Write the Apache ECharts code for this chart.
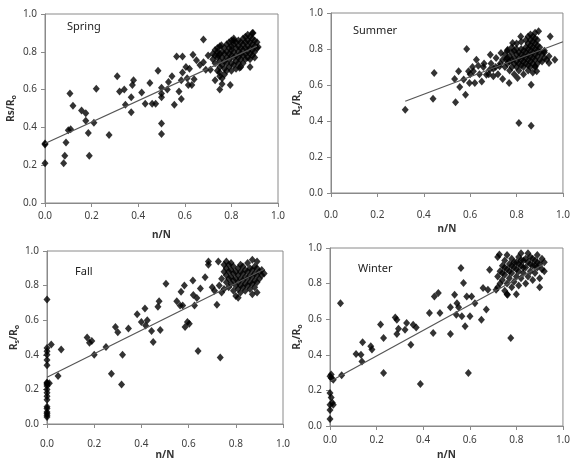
<!DOCTYPE html>
<html><head><meta charset="utf-8">
<script src="https://cdn.jsdelivr.net/npm/echarts@6/dist/echarts.min.js"></script>
<style>html,body{margin:0;padding:0;background:#fff}#c{width:573px;height:461px}</style>
</head><body><div id="c"></div>
<script>
var panelNames = ['Spring', 'Summer', 'Fall', 'Winter'];
var tickLabels = ['0.0', '0.2', '0.4', '0.6', '0.8', '1.0'];

var springPts = [
[0,0.315],[0,0.31],[0,0.21],[0.08,0.21],[0.085,0.25],[0.09,0.32],[0.1,0.385],[0.11,0.39],[0.107,0.58],[0.12,0.515],
[0.157,0.49],[0.175,0.475],[0.175,0.435],[0.186,0.37],[0.19,0.25],[0.21,0.425],[0.22,0.605],
[0.275,0.36],[0.31,0.67],[0.32,0.59],[0.34,0.6],[0.345,0.52],[0.37,0.56],[0.375,0.625],[0.38,0.65],[0.37,0.48],
[0.415,0.585],[0.43,0.525],[0.45,0.635],[0.46,0.525],[0.475,0.525],[0.485,0.7],[0.5,0.58],[0.5,0.56],[0.5,0.61],
[0.5,0.42],[0.5,0.365],[0.525,0.6],[0.53,0.64],[0.545,0.67],[0.555,0.52],[0.565,0.775],[0.575,0.59],[0.585,0.55],
[0.585,0.65],[0.59,0.775],[0.59,0.69],[0.605,0.72],[0.61,0.66],[0.615,0.625],[0.62,0.71],[0.63,0.625],[0.635,0.785],
[0.64,0.655],[0.65,0.755],[0.665,0.73],[0.68,0.865],[0.68,0.745],[0.69,0.705],[0.7,0.78],[0.71,0.705],
[0.73,0.65],[0.745,0.78],[0.75,0.60],[0.75,0.67],[0.757,0.835],[0.795,0.625],[0.81,0.86],[0.835,0.715],[0.893,0.9],[0.915,0.825],
[0.72,0.76],[0.72,0.79],[0.73,0.74],[0.73,0.78],[0.73,0.81],[0.74,0.70],[0.74,0.77],[0.74,0.80],[0.74,0.82],[0.75,0.72],
[0.75,0.75],[0.75,0.79],[0.75,0.83],[0.75,0.69],[0.76,0.73],[0.76,0.77],[0.76,0.80],[0.76,0.66],[0.76,0.63],[0.77,0.71],
[0.77,0.75],[0.77,0.79],[0.77,0.82],[0.77,0.68],[0.78,0.74],[0.78,0.77],[0.78,0.80],[0.78,0.84],[0.78,0.70],[0.79,0.72],
[0.79,0.76],[0.79,0.79],[0.79,0.82],[0.79,0.85],[0.80,0.74],[0.80,0.78],[0.80,0.81],[0.80,0.83],[0.80,0.86],[0.80,0.70],
[0.81,0.73],[0.81,0.77],[0.81,0.80],[0.81,0.84],[0.81,0.87],[0.82,0.75],[0.82,0.78],[0.82,0.82],[0.82,0.85],[0.82,0.71],
[0.83,0.74],[0.83,0.77],[0.83,0.80],[0.83,0.83],[0.83,0.86],[0.84,0.76],[0.84,0.79],[0.84,0.82],[0.84,0.85],[0.84,0.72],
[0.85,0.74],[0.85,0.78],[0.85,0.81],[0.85,0.84],[0.85,0.87],[0.86,0.76],[0.86,0.79],[0.86,0.82],[0.86,0.85],[0.86,0.88],
[0.87,0.77],[0.87,0.80],[0.87,0.83],[0.87,0.86],[0.87,0.89],[0.88,0.76],[0.88,0.79],[0.88,0.82],[0.88,0.85],[0.88,0.88],
[0.88,0.72],[0.89,0.78],[0.89,0.81],[0.89,0.84],[0.89,0.87],[0.89,0.90],[0.90,0.80],[0.90,0.83],[0.90,0.86],[0.90,0.77],
[0.91,0.82],[0.91,0.85]
];
var summerPts = [
[0.32,0.463],[0.44,0.524],[0.445,0.667],[0.537,0.504],[0.533,0.633],[0.555,0.589],[0.55,0.676],[0.58,0.546],[0.585,0.80],
[0.572,0.63],[0.593,0.676],[0.597,0.611],[0.614,0.676],[0.62,0.611],[0.627,0.74],[0.635,0.707],[0.65,0.62],[0.657,0.70],
[0.67,0.657],[0.684,0.685],[0.687,0.768],[0.7,0.648],[0.712,0.75],[0.727,0.704],[0.733,0.778],[0.74,0.633],[0.755,0.741],
[0.762,0.796],[0.768,0.611],[0.783,0.833],[0.804,0.639],[0.81,0.389],[0.818,0.87],[0.863,0.602],[0.863,0.374],[0.88,0.704],
[0.895,0.898],[0.887,0.676],[0.945,0.87],[0.94,0.722],[0.965,0.74],[0.92,0.78],
[0.60,0.66],[0.61,0.70],[0.64,0.66],[0.66,0.72],[0.69,0.72],[0.70,0.69],[0.72,0.66],[0.73,0.72],[0.71,0.70],[0.68,0.66],
[0.74,0.74],[0.75,0.70],[0.75,0.77],[0.76,0.72],[0.76,0.75],[0.76,0.79],[0.77,0.68],[0.77,0.73],[0.77,0.76],[0.78,0.70],
[0.78,0.74],[0.78,0.78],[0.78,0.81],[0.79,0.66],[0.79,0.72],[0.79,0.75],[0.79,0.79],[0.80,0.70],[0.80,0.73],[0.80,0.77],
[0.80,0.80],[0.80,0.83],[0.81,0.68],[0.81,0.72],[0.81,0.75],[0.81,0.78],[0.82,0.71],[0.82,0.74],[0.82,0.77],[0.82,0.80],
[0.82,0.84],[0.83,0.66],[0.83,0.70],[0.83,0.73],[0.83,0.76],[0.83,0.79],[0.84,0.72],[0.84,0.75],[0.84,0.78],[0.84,0.81],
[0.84,0.85],[0.85,0.68],[0.85,0.71],[0.85,0.74],[0.85,0.77],[0.85,0.80],[0.85,0.83],[0.85,0.87],[0.86,0.70],[0.86,0.73],
[0.86,0.76],[0.86,0.79],[0.86,0.82],[0.86,0.85],[0.86,0.88],[0.87,0.67],[0.87,0.72],[0.87,0.75],[0.87,0.78],[0.87,0.81],
[0.87,0.84],[0.87,0.87],[0.88,0.70],[0.88,0.74],[0.88,0.77],[0.88,0.80],[0.88,0.83],[0.88,0.86],[0.88,0.89],[0.89,0.72],
[0.89,0.76],[0.89,0.79],[0.89,0.82],[0.89,0.85],[0.90,0.74],[0.90,0.78],[0.90,0.81],[0.91,0.73],[0.91,0.77],[0.92,0.75],
[0.92,0.79],[0.93,0.74],[0.94,0.76]
];
var fallPts = [
[0,0.72],[0,0.44],[0,0.42],[0,0.40],[0,0.37],[0,0.34],[0,0.24],[0,0.235],[0,0.23],[0,0.22],[0,0.2],[0,0.18],[0,0.16],
[0,0.14],[0,0.1],[0,0.09],[0,0.07],[0,0.06],[0,0.05],[0,0.04],[0.01,0.235],[0.018,0.46],
[0.047,0.278],[0.06,0.43],[0.17,0.50],[0.18,0.47],[0.19,0.48],[0.2,0.40],[0.25,0.445],[0.273,0.29],[0.29,0.56],[0.3,0.53],
[0.316,0.228],[0.32,0.40],[0.345,0.552],[0.382,0.635],[0.4,0.59],[0.415,0.667],[0.418,0.57],[0.425,0.6],[0.443,0.537],
[0.45,0.474],[0.47,0.678],[0.475,0.71],[0.48,0.543],[0.504,0.81],[0.55,0.71],[0.564,0.685],[0.568,0.765],[0.575,0.685],
[0.582,0.8],[0.585,0.56],[0.595,0.59],[0.603,0.58],[0.618,0.83],[0.62,0.746],[0.625,0.685],[0.635,0.728],[0.64,0.422],
[0.65,0.783],[0.67,0.848],[0.684,0.94],[0.684,0.92],[0.72,0.69],[0.726,0.94],[0.734,0.385],[0.70,0.79],[0.71,0.77],
[0.73,0.80],[0.74,0.76],[0.74,0.84],[0.75,0.78],[0.75,0.88],[0.75,0.92],[0.76,0.82],[0.76,0.86],[0.76,0.90],[0.76,0.94],
[0.77,0.79],[0.77,0.84],[0.77,0.88],[0.77,0.92],[0.78,0.81],[0.78,0.85],[0.78,0.89],[0.78,0.93],[0.79,0.77],[0.79,0.83],
[0.79,0.87],[0.79,0.91],[0.80,0.74],[0.80,0.80],[0.80,0.84],[0.80,0.88],[0.81,0.73],[0.81,0.78],[0.81,0.82],[0.81,0.86],
[0.81,0.90],[0.82,0.76],[0.82,0.80],[0.82,0.84],[0.82,0.88],[0.82,0.92],[0.83,0.79],[0.83,0.83],[0.83,0.87],[0.83,0.91],
[0.84,0.77],[0.84,0.81],[0.84,0.85],[0.84,0.89],[0.85,0.80],[0.85,0.84],[0.85,0.88],[0.85,0.93],[0.86,0.78],[0.86,0.82],
[0.86,0.86],[0.86,0.90],[0.87,0.75],[0.87,0.81],[0.87,0.85],[0.87,0.89],[0.87,0.95],[0.88,0.79],[0.88,0.83],[0.88,0.87],
[0.88,0.91],[0.89,0.76],[0.89,0.82],[0.89,0.86],[0.89,0.90],[0.89,0.94],[0.90,0.84],[0.90,0.88],[0.91,0.86],[0.91,0.89],
[0.92,0.87]
];
var winterPts = [
[0,0.04],[0,0.09],[0,0.12],[0.01,0.13],[0.005,0.16],[0,0.185],[0.014,0.12],[0,0.28],[0.005,0.27],[0.014,0.26],[0.005,0.29],
[0.045,0.69],[0.05,0.285],[0.112,0.405],[0.133,0.40],[0.137,0.363],[0.14,0.47],[0.175,0.448],[0.18,0.43],[0.217,0.57],
[0.23,0.494],[0.23,0.298],[0.28,0.61],[0.287,0.597],[0.287,0.517],[0.294,0.547],[0.322,0.541],[0.329,0.579],[0.347,0.457],
[0.357,0.569],[0.37,0.554],[0.388,0.236],[0.427,0.635],[0.443,0.522],[0.448,0.728],[0.465,0.747],[0.472,0.635],[0.517,0.517],
[0.517,0.667],[0.535,0.738],[0.542,0.625],[0.545,0.69],[0.552,0.667],[0.562,0.888],[0.566,0.616],[0.573,0.803],[0.58,0.56],
[0.587,0.728],[0.594,0.298],[0.601,0.616],[0.608,0.728],[0.622,0.69],[0.65,0.597],[0.657,0.775],[0.671,0.654],[0.678,0.766],
[0.685,0.878],[0.713,0.766],[0.727,0.963],[0.776,0.494],[0.762,0.738],
[0.72,0.78],[0.72,0.84],[0.72,0.95],[0.73,0.80],[0.73,0.87],[0.74,0.82],[0.74,0.90],[0.75,0.76],[0.75,0.85],[0.75,0.93],
[0.76,0.74],[0.76,0.80],[0.76,0.88],[0.76,0.96],[0.77,0.83],[0.77,0.91],[0.78,0.78],[0.78,0.86],[0.78,0.94],[0.79,0.81],
[0.79,0.89],[0.80,0.84],[0.80,0.92],[0.80,0.74],[0.81,0.87],[0.81,0.95],[0.81,0.79],[0.82,0.83],[0.82,0.90],[0.82,0.97],
[0.83,0.86],[0.83,0.93],[0.84,0.80],[0.84,0.89],[0.85,0.84],[0.85,0.92],[0.85,0.97],[0.86,0.87],[0.86,0.95],[0.87,0.82],
[0.87,0.90],[0.88,0.86],[0.88,0.93],[0.89,0.89],[0.89,0.96],[0.90,0.83],[0.90,0.78],[0.90,0.91],[0.91,0.88],[0.91,0.94],
[0.92,0.92],[0.92,0.87],[0.79,0.92],[0.80,0.88],[0.81,0.91],[0.83,0.89],[0.84,0.94],[0.86,0.91],[0.87,0.94],[0.88,0.90],
[0.89,0.92],[0.78,0.90],[0.77,0.87],[0.75,0.89],[0.74,0.86],[0.82,0.93]
];
var springTrend = [[0, 0.315], [0.91, 0.83]];
var summerTrend = [[0.32, 0.51], [1.0, 0.84]];
var fallTrend = [[0, 0.27], [0.92, 0.895]];
var winterTrend = [[0, 0.25], [0.92, 0.91]];

var allPts = [springPts, summerPts, fallPts, winterPts];
var allTrends = [springTrend, summerTrend, fallTrend, winterTrend];

var grids = [
  {left: 45, top: 14, width: 233, height: 189},
  {left: 331, top: 13, width: 237, height: 180},
  {left: 47, top: 251, width: 236, height: 180},
  {left: 330, top: 248, width: 238, height: 178}
];
var xLabelMargin = [8, 17, 15, 9];
var xNameGap = [27, 31, 26, 24];
var yNameGap = [28, 28, 27, 27];
var titlePos = [[67, 21], [353, 25], [75, 266], [358, 263]];
var yNames = ['{m|Rs/R}{s|o}', '{m|R}{s|s}{m|/R}{s|o}', '{m|R}{s|s}{m|/R}{s|o}', '{m|R}{s|s}{m|/R}{s|o}'];

var FONT = 'Noto Sans';
var labelStyle = {fontFamily: FONT, fontSize: 10, color: '#404040'};

var option = {
  animation: false,
  backgroundColor: '#fff',
  title: panelNames.map(function (n, i) {
    return {text: n, left: titlePos[i][0], top: titlePos[i][1], padding: 0,
      textStyle: {fontFamily: FONT, fontSize: 11, fontWeight: 'normal', color: '#222'}};
  }),
  grid: grids.map(function (g) {
    return {left: g.left, top: g.top, width: g.width, height: g.height, show: true,
      borderColor: '#8a8a8a', borderWidth: 1, backgroundColor: 'transparent', containLabel: false};
  }),
  xAxis: grids.map(function (g, i) {
    return {type: 'value', gridIndex: i, min: 0, max: 1, interval: 0.2,
      name: 'n/N', nameLocation: 'middle', nameGap: xNameGap[i],
      nameTextStyle: {fontFamily: FONT, fontSize: 10, fontWeight: 'bold', color: '#333'},
      axisLine: {show: true, lineStyle: {color: '#8a8a8a', width: 1}},
      axisTick: {show: true, length: 4, lineStyle: {color: '#8a8a8a'}},
      splitLine: {show: false},
      axisLabel: Object.assign({margin: xLabelMargin[i], formatter: function (v) { return tickLabels[Math.round(v * 5)]; }}, labelStyle)};
  }),
  yAxis: grids.map(function (g, i) {
    return {type: 'value', gridIndex: i, min: 0, max: 1, interval: 0.2,
      name: yNames[i], nameLocation: 'middle', nameGap: yNameGap[i], nameRotate: 90,
      nameTextStyle: {fontFamily: FONT, fontSize: 10, fontWeight: 'bold', color: '#333',
        rich: {m: {fontFamily: FONT, fontSize: 10, fontWeight: 'bold', color: '#333'},
               s: {fontFamily: FONT, fontSize: 7, fontWeight: 'bold', color: '#333', padding: [5, 0, 0, 0]}}},
      axisLine: {show: true, lineStyle: {color: '#8a8a8a', width: 1}},
      axisTick: {show: true, length: 4, lineStyle: {color: '#8a8a8a'}},
      splitLine: {show: false},
      axisLabel: Object.assign({margin: 8, formatter: function (v) { return tickLabels[Math.round(v * 5)]; }}, labelStyle)};
  }),
  series: []
};
allPts.forEach(function (pts, i) {
  option.series.push({type: 'scatter', xAxisIndex: i, yAxisIndex: i, data: pts,
    symbol: 'diamond', symbolSize: [7, 8], itemStyle: {color: '#000'}, z: 2});
  option.series.push({type: 'line', xAxisIndex: i, yAxisIndex: i, data: allTrends[i],
    symbol: 'none', lineStyle: {color: '#555', width: 1.2}, z: 3});
});
var chart = echarts.init(document.getElementById('c'), null, {renderer: 'canvas'});
chart.setOption(option);
</script>
</body></html>
